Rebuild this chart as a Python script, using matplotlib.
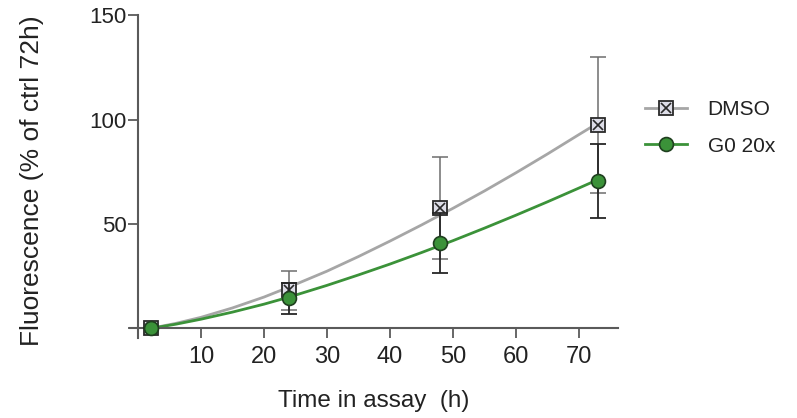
import matplotlib
matplotlib.use("Agg")
import matplotlib.pyplot as plt
from matplotlib.lines import Line2D

# ---- data ----
time_h = [2, 24, 48, 73]
dmso_mean = [0.0, 18.3, 57.5, 97.4]
dmso_err = [0.0, 9.3, 24.4, 32.4]
g0_mean = [0.0, 14.4, 40.7, 70.5]
g0_err = [0.0, 7.5, 14.4, 17.7]

# fitted curves
fit_x = [2, 6, 10, 15, 20, 24, 30, 35, 40, 45, 50, 55, 60, 65, 70, 73]
dmso_fit = [0, 2.4, 5.3, 9.8, 15.0, 19.8, 27.4, 34.4, 41.8, 49.5, 57.5,
            65.8, 74.5, 83.5, 92.8, 98.3]
g0_fit = [0, 2.0, 4.4, 7.8, 11.6, 15.0, 20.6, 25.6, 30.8, 36.3, 42.0,
          48.0, 54.2, 60.6, 67.2, 71.2]

x_ticks = [10, 20, 30, 40, 50, 60, 70]
y_ticks = [0, 50, 100, 150]
y_tick_labels = ["", "50", "100", "150"]

plt.rcParams['font.family'] = ['Liberation Sans', 'DejaVu Sans']

W, H = 797, 418
fig = plt.figure(figsize=(W / 100, H / 100), dpi=100)
ax = fig.add_axes([130 / W, 1 - 338 / H, (618 - 130) / W, (338 - 15) / H])

gray = '#a6a6a6'
green = '#3b9239'

# curves
ax.plot(fit_x, dmso_fit, color=gray, lw=2.0, zorder=2)
ax.plot(fit_x, g0_fit, color=green, lw=2.0, zorder=2)

# DMSO errorbars + markers
ax.errorbar(time_h, dmso_mean, yerr=dmso_err, fmt='none', ecolor='#6e6e6e',
            elinewidth=1.1, capsize=5.5, capthick=1.1, zorder=3)
ax.plot(time_h, dmso_mean, ls='none', marker='s', ms=10, mfc='#dedee8',
        mec='#2a2a2a', mew=1.3, zorder=4)
ax.plot(time_h, dmso_mean, ls='none', marker='x', ms=6.5, mec='#2a2a2a',
        mew=1.2, zorder=5)

# G0 errorbars + markers
ax.errorbar(time_h, g0_mean, yerr=g0_err, fmt='none', ecolor='#262626',
            elinewidth=1.3, capsize=5.5, capthick=1.3, zorder=6)
ax.plot(time_h, g0_mean, ls='none', marker='o', ms=10, mfc=green,
        mec='#1f3f1f', mew=1.2, zorder=7)

# axes styling
ax.set_xlim(-1.27, 76.2)
ax.set_ylim(-4.6, 150.05)
for s in ['top', 'right']:
    ax.spines[s].set_visible(False)
ax.spines['left'].set_position(('data', 0))
ax.spines['bottom'].set_position(('data', 0))
for s in ['left', 'bottom']:
    ax.spines[s].set_color('#5a5a5a')
    ax.spines[s].set_linewidth(1.5)

ax.set_xticks(x_ticks)
ax.set_xticklabels([str(t) for t in x_ticks])
ax.set_yticks(y_ticks)
ax.set_yticklabels(y_tick_labels)
ax.tick_params(axis='both', direction='out', length=7, width=1.3,
               color='#5a5a5a', labelcolor='#222222')
ax.tick_params(axis='x', labelsize=17, pad=5.5)
ax.tick_params(axis='y', labelsize=16, pad=1)

fig.text(374 / W, 1 - 401 / H, "Time in assay  (h)", ha='center', va='center',
         fontsize=17.5, color='#222222')
fig.text(32 / W, 1 - 181 / H, "Fluorescence (% of ctrl 72h)", ha='center',
         va='center', rotation=90, fontsize=19, color='#222222')

# legend
h_dmso = (Line2D([], [], color=gray, lw=2.0, marker='s', ms=10, mfc='#dedee8',
                 mec='#2a2a2a', mew=1.3),
          Line2D([], [], ls='none', marker='x', ms=6.5, mec='#2a2a2a', mew=1.2))
h_g0 = Line2D([], [], color=green, lw=2.0, marker='o', ms=10, mfc=green,
              mec='#1f3f1f', mew=1.2)
leg = fig.legend([h_dmso, h_g0], ["DMSO", "G0 20x"], loc='upper left',
                 bbox_to_anchor=(645 / W, 1 - 100 / H), frameon=False,
                 fontsize=15, handlelength=2.0, handletextpad=1.0,
                 labelspacing=0.84, borderaxespad=0, borderpad=0)
for t in leg.get_texts():
    t.set_color('#222222')

fig.savefig('out.png', dpi=100, facecolor='white')
